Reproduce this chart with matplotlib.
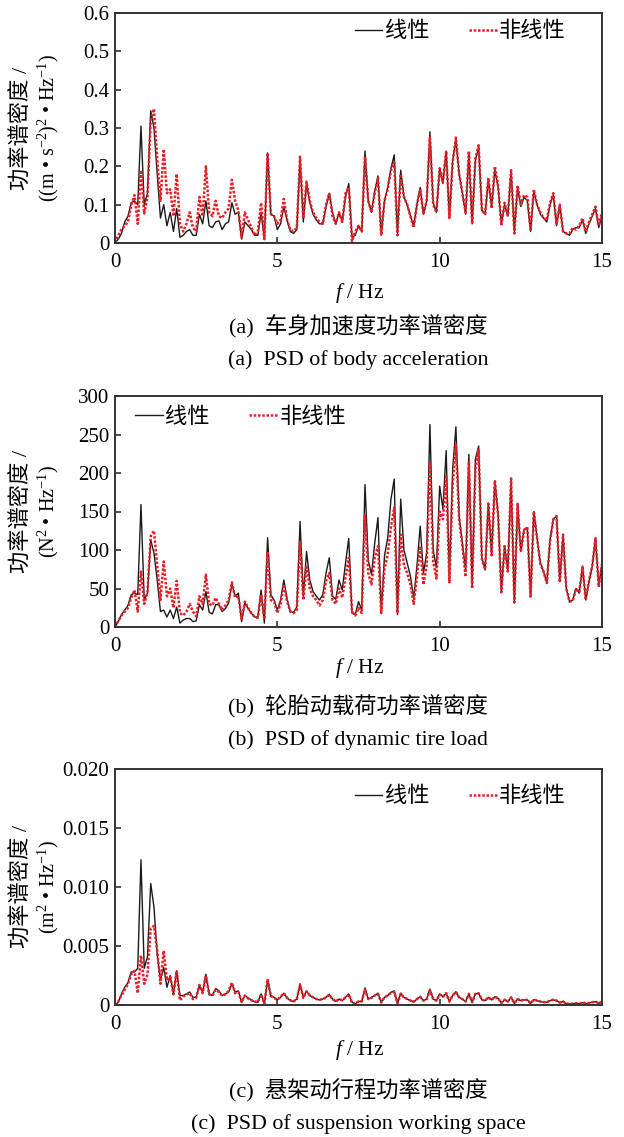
import numpy as np
import matplotlib
matplotlib.use("Agg")
import matplotlib.pyplot as plt

plt.rcParams['font.family'] = ['Liberation Serif', 'Noto Sans CJK SC']
plt.rcParams['mathtext.fontset'] = 'custom'
plt.rcParams['mathtext.rm'] = 'Liberation Serif'
plt.rcParams['mathtext.it'] = 'Liberation Serif:italic'

freq = np.round(np.arange(0, 15.001, 0.1), 1)

# (a) body acceleration PSD
acc_linear = [
    0, 0.01, 0.025, 0.055, 0.07, 0.105, 0.11, 0.10, 0.305, 0.10,
    0.13, 0.345, 0.30, 0.18, 0.065, 0.10, 0.045, 0.08, 0.03, 0.09,
    0.015, 0.02, 0.03, 0.035, 0.02, 0.02, 0.075, 0.05, 0.11, 0.045,
    0.04, 0.055, 0.058, 0.035, 0.05, 0.055, 0.105, 0.075, 0.08, 0.01,
    0.055, 0.045, 0.035, 0.02, 0.02, 0.08, 0.01, 0.235, 0.075, 0.07,
    0.035, 0.05, 0.095, 0.06, 0.03, 0.025, 0.035, 0.22, 0.055, 0.155,
    0.105, 0.075, 0.06, 0.05, 0.05, 0.095, 0.13, 0.08, 0.05, 0.08,
    0.055, 0.12, 0.155, 0.015, 0.02, 0.045, 0.03, 0.24, 0.11, 0.08,
    0.135, 0.175, 0.02, 0.11, 0.145, 0.195, 0.23, 0.025, 0.19, 0.12,
    0.10, 0.07, 0.045, 0.10, 0.145, 0.075, 0.11, 0.29, 0.105, 0.08,
    0.195, 0.155, 0.24, 0.065, 0.215, 0.27, 0.18, 0.13, 0.075, 0.235,
    0.05, 0.215, 0.25, 0.085, 0.075, 0.165, 0.095, 0.19, 0.145, 0.05,
    0.10, 0.07, 0.19, 0.03, 0.145, 0.095, 0.12, 0.11, 0.03, 0.135,
    0.10, 0.075, 0.065, 0.055, 0.10, 0.125, 0.045, 0.10, 0.03, 0.025,
    0.02, 0.035, 0.04, 0.04, 0.06, 0.025, 0.05, 0.07, 0.09, 0.04,
    0.075,
]
acc_nonlinear = [
    0, 0.02, 0.035, 0.045, 0.055, 0.10, 0.125, 0.05, 0.19, 0.077,
    0.12, 0.32, 0.35, 0.22, 0.11, 0.245, 0.13, 0.14, 0.07, 0.18,
    0.05, 0.03, 0.05, 0.08, 0.04, 0.03, 0.12, 0.07, 0.20, 0.08,
    0.07, 0.11, 0.07, 0.065, 0.08, 0.09, 0.165, 0.11, 0.085, 0.015,
    0.08, 0.06, 0.04, 0.02, 0.03, 0.105, 0.01, 0.235, 0.075, 0.07,
    0.05, 0.06, 0.115, 0.06, 0.035, 0.03, 0.04, 0.225, 0.065, 0.16,
    0.11, 0.08, 0.065, 0.055, 0.05, 0.10, 0.13, 0.07, 0.05, 0.08,
    0.055, 0.13, 0.145, 0.005, 0.03, 0.045, 0.03, 0.225, 0.11, 0.08,
    0.13, 0.17, 0.02, 0.11, 0.14, 0.19, 0.21, 0.02, 0.18, 0.12,
    0.10, 0.07, 0.04, 0.10, 0.14, 0.075, 0.11, 0.275, 0.10, 0.08,
    0.195, 0.16, 0.24, 0.065, 0.21, 0.275, 0.18, 0.13, 0.08, 0.24,
    0.05, 0.22, 0.255, 0.085, 0.075, 0.17, 0.09, 0.20, 0.15, 0.045,
    0.105, 0.07, 0.19, 0.025, 0.15, 0.10, 0.125, 0.12, 0.035, 0.14,
    0.10, 0.08, 0.065, 0.06, 0.105, 0.13, 0.05, 0.10, 0.03, 0.025,
    0.025, 0.04, 0.035, 0.045, 0.065, 0.03, 0.055, 0.075, 0.095, 0.045,
    0.08,
]

# (b) dynamic tire load PSD
tire_linear = [
    0, 7, 16, 22, 28, 42, 44, 42, 159, 35,
    44, 113, 96, 61, 20, 22, 13, 22, 11, 26,
    5, 9, 11, 11, 7, 8, 29, 22, 46, 19,
    17, 29, 29, 20, 24, 31, 56, 40, 44, 7,
    31, 24, 18, 13, 13, 48, 5, 116, 42, 35,
    22, 35, 61, 37, 20, 19, 26, 137, 40, 98,
    61, 46, 40, 35, 42, 70, 90, 40, 36, 61,
    48, 83, 115, 18, 16, 33, 22, 185, 87, 68,
    109, 142, 18, 92, 116, 166, 192, 16, 166, 100,
    83, 66, 37, 79, 131, 70, 96, 263, 100, 77,
    183, 153, 229, 63, 205, 260, 144, 109, 74, 224,
    53, 218, 235, 90, 74, 161, 94, 190, 146, 46,
    105, 74, 192, 31, 159, 98, 127, 129, 40, 150,
    116, 83, 72, 57, 113, 140, 144, 59, 120, 50,
    33, 35, 50, 44, 79, 35, 59, 79, 116, 53,
    83,
]
tire_nonlinear = [
    0, 8, 15, 20, 25, 38, 48, 20, 72, 30,
    45, 118, 125, 80, 35, 85, 40, 50, 25, 60,
    18, 15, 20, 30, 20, 14, 40, 30, 68, 30,
    28, 38, 30, 22, 28, 35, 58, 38, 40, 10,
    33, 25, 18, 13, 12, 42, 10, 98, 35, 33,
    18, 30, 55, 33, 20, 18, 22, 110, 35, 80,
    50, 40, 35, 28, 35, 60, 70, 35, 30, 50,
    38, 65, 90, 20, 15, 25, 18, 145, 70, 55,
    90, 105, 18, 75, 95, 130, 155, 18, 120, 80,
    70, 55, 30, 65, 105, 55, 80, 215, 85, 63,
    150, 140, 195, 58, 185, 237, 140, 105, 65, 215,
    50, 205, 230, 88, 75, 160, 93, 190, 145, 45,
    105, 72, 193, 32, 160, 98, 125, 130, 38, 150,
    115, 82, 72, 57, 112, 140, 144, 58, 120, 50,
    33, 34, 50, 45, 78, 35, 60, 80, 115, 52,
    82,
]

# (c) suspension working space PSD (x 1e-3)
susp_linear_e3 = [
    0, 0.23, 0.94, 1.5, 1.9, 2.8, 2.8, 3.1, 12.3, 3.1,
    4.1, 10.3, 8.3, 4.3, 2.1, 3.2, 1.5, 2.5, 0.94, 2.9,
    0.8, 0.8, 0.94, 1.1, 0.65, 0.65, 1.65, 1.1, 2.6, 0.94,
    0.8, 1.4, 1.2, 0.8, 0.94, 1.1, 1.8, 1.1, 1.2, 0.23,
    0.8, 0.6, 0.43, 0.28, 0.23, 0.94, 0.14, 2.1, 0.8, 0.65,
    0.43, 0.65, 1.0, 0.6, 0.37, 0.31, 0.5, 1.8, 0.65, 1.2,
    0.8, 0.65, 0.5, 0.43, 0.5, 0.65, 0.9, 0.5, 0.31, 0.5,
    0.37, 0.65, 0.94, 0.23, 0.1, 0.3, 0.3, 1.45, 0.5, 0.65,
    0.8, 1.0, 0.23, 0.65, 0.8, 1.08, 1.2, 0.14, 1.0, 0.65,
    0.5, 0.37, 0.28, 0.5, 0.7, 0.37, 0.5, 1.35, 0.5, 0.37,
    0.94, 0.7, 1.0, 0.28, 0.8, 1.13, 0.65, 0.5, 0.3, 0.94,
    0.23, 0.94, 1.0, 0.43, 0.37, 0.65, 0.43, 0.7, 0.57, 0.17,
    0.43, 0.28, 0.65, 0.14, 0.5, 0.37, 0.43, 0.43, 0.14, 0.45,
    0.37, 0.28, 0.25, 0.23, 0.37, 0.43, 0.37, 0.2, 0.3, 0.11,
    0.09, 0.11, 0.14, 0.11, 0.2, 0.11, 0.17, 0.23, 0.28, 0.14,
    0.28,
]
susp_nonlinear_e3 = [
    0, 0.3, 0.8, 1.3, 1.8, 2.6, 2.9, 1.0, 4.2, 1.8,
    2.6, 6.5, 6.7, 4.6, 1.8, 4.6, 2.1, 2.4, 0.9, 2.9,
    0.4, 0.7, 0.9, 1.0, 0.5, 0.6, 1.7, 1.0, 2.5, 0.9,
    0.8, 1.3, 1.1, 0.8, 0.9, 1.2, 1.9, 1.0, 1.1, 0.25,
    0.8, 0.55, 0.4, 0.3, 0.25, 0.9, 0.1, 2.2, 0.75, 0.6,
    0.45, 0.7, 1.0, 0.6, 0.4, 0.3, 0.5, 1.7, 0.6, 1.15,
    0.8, 0.65, 0.5, 0.45, 0.5, 0.65, 0.85, 0.5, 0.3, 0.5,
    0.4, 0.65, 0.9, 0.2, 0.1, 0.3, 0.3, 1.3, 0.5, 0.6,
    0.8, 0.95, 0.2, 0.65, 0.8, 1.0, 1.1, 0.14, 0.95, 0.65,
    0.5, 0.37, 0.28, 0.5, 0.7, 0.37, 0.5, 1.25, 0.5, 0.37,
    0.9, 0.7, 1.0, 0.3, 0.8, 1.1, 0.65, 0.5, 0.3, 0.95,
    0.23, 0.95, 1.0, 0.45, 0.37, 0.65, 0.43, 0.7, 0.57, 0.17,
    0.45, 0.3, 0.65, 0.15, 0.5, 0.37, 0.45, 0.43, 0.15, 0.45,
    0.37, 0.3, 0.25, 0.23, 0.37, 0.45, 0.37, 0.2, 0.3, 0.12,
    0.1, 0.12, 0.15, 0.12, 0.2, 0.12, 0.17, 0.23, 0.28, 0.15,
    0.28,
]

xticks = [0, 5, 10, 15]
yticks_a = [0, 0.1, 0.2, 0.3, 0.4, 0.5, 0.6]
yticklabels_a = ['0', '0.1', '0.2', '0.3', '0.4', '0.5', '0.6']
yticks_b = [0, 50, 100, 150, 200, 250, 300]
yticklabels_b = ['0', '50', '100', '150', '200', '250', '300']
yticks_c = [0, 0.005, 0.010, 0.015, 0.020]
yticklabels_c = ['0', '0.005', '0.010', '0.015', '0.020']

legend_labels = ['线性', '非线性']
ylabel_top = '功率谱密度 /'
ylabels_bottom = [
    r'((m • s$^{-2}$)$^{2}$ • Hz$^{-1}$)',
    r'(N$^{2}$ • Hz$^{-1}$)',
    r'(m$^{2}$ • Hz$^{-1}$)',
]
captions_cn = ['(a)  车身加速度功率谱密度', '(b)  轮胎动载荷功率谱密度', '(c)  悬架动行程功率谱密度']
captions_en = ['(a)  PSD of body acceleration', '(b)  PSD of dynamic tire load',
               '(c)  PSD of suspension working space']

W, H = 624, 1137
fig = plt.figure(figsize=(W / 100, H / 100), dpi=100)
fig.patch.set_facecolor('white')

boxes = [(115, 13, 602, 243), (115, 396, 602, 627), (115, 769, 602, 1005)]
series = [
    (np.array(acc_linear), np.array(acc_nonlinear), yticks_a, yticklabels_a),
    (np.array(tire_linear), np.array(tire_nonlinear), yticks_b, yticklabels_b),
    (np.array(susp_linear_e3) * 1e-3, np.array(susp_nonlinear_e3) * 1e-3, yticks_c, yticklabels_c),
]
legend_cfg = [
    dict(loc='center right', bbox_to_anchor=(0.926, 0.917)),
    dict(loc='center left', bbox_to_anchor=(0.041, 0.905)),
    dict(loc='center right', bbox_to_anchor=(0.926, 0.881)),
]
xlabel_y = [293, 668, 1050]
cap_cn_y = [327, 707, 1091]
cap_en_y = [360, 740, 1124]

for i, ((l, t, r, b), (lin, nonlin, yt, ytl)) in enumerate(zip(boxes, series)):
    ax = fig.add_axes([l / W, 1 - b / H, (r - l) / W, (b - t) / H])
    ax.plot(freq, lin, color='#1a1a1a', lw=1.0, label=legend_labels[0])
    ax.plot(freq, nonlin, color='#ee1c24', lw=1.8, ls=(0, (1, 0.7)), label=legend_labels[1])
    ax.set_xlim(0, 15)
    ax.set_ylim(yt[0], yt[-1])
    ax.set_xticks(xticks)
    ax.set_xticklabels([str(v) for v in xticks])
    ax.set_yticks(yt)
    ax.set_yticklabels(ytl)
    ax.tick_params(direction='in', length=4, width=1.2, labelsize=15, color='#333333',
                   top=False, right=False)
    ax.tick_params(axis='x', pad=7)
    ax.tick_params(axis='y', pad=4)
    for s in ax.spines.values():
        s.set_linewidth(1.4)
        s.set_color('#333333')
    ax.legend(ncol=2, frameon=False, fontsize=16, handlelength=1.25, handletextpad=0.1,
              columnspacing=1.8, borderpad=0, borderaxespad=0, **legend_cfg[i])
    cy = (t + b) / 2
    fig.text(22 / W, 1 - cy / H, ylabel_top, rotation=90, ha='center', va='center', fontsize=16)
    fig.text(48 / W, 1 - cy / H, ylabels_bottom[i], rotation=90, ha='center', va='center', fontsize=14.5)
    fig.text(360 / W, 1 - xlabel_y[i] / H, r'$\it{f}$ / Hz', ha='center', va='center', fontsize=15.5)
    fig.text(358 / W, 1 - cap_cn_y[i] / H, captions_cn[i], ha='center', va='center', fontsize=16)
    fig.text(358 / W, 1 - cap_en_y[i] / H, captions_en[i], ha='center', va='center', fontsize=15.8)

fig.savefig('out.png', dpi=100, facecolor='white')
